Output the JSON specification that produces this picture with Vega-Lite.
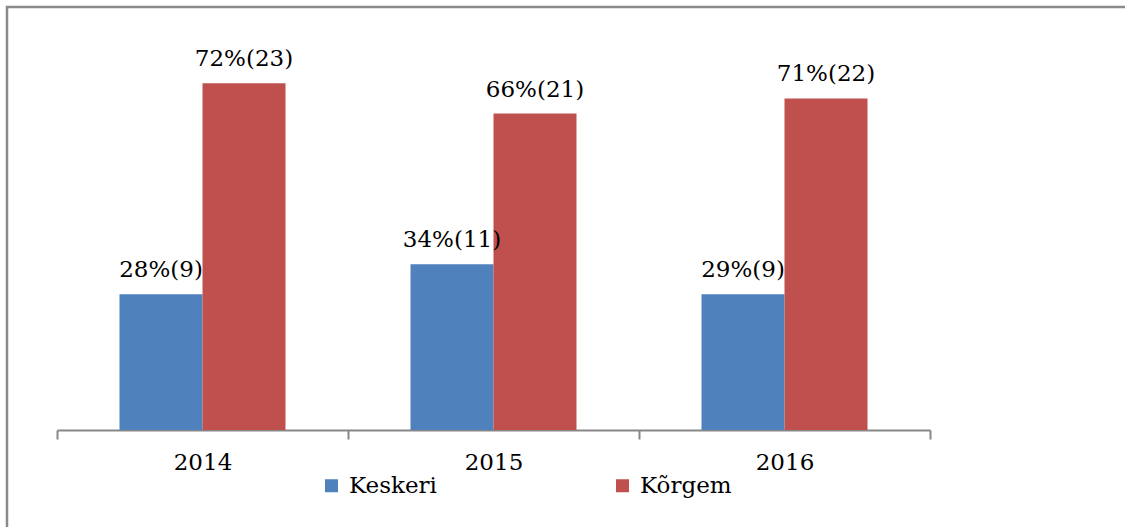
{
  "$schema": "https://vega.github.io/schema/vega-lite/v6.json",
  "width": 1125,
  "height": 525,
  "padding": {"left": 7, "top": 7, "right": 0, "bottom": 0},
  "background": "white",
  "config": {
    "view": {"stroke": "#8a8a8a", "strokeWidth": 2.5},
    "font": "DejaVu Serif"
  },
  "data": {
    "values": [
      {"year": "2014", "series": "Keskeri", "count": 9, "label": "28%(9)"},
      {"year": "2014", "series": "Kõrgem", "count": 23, "label": "72%(23)"},
      {"year": "2015", "series": "Keskeri", "count": 11, "label": "34%(11)"},
      {"year": "2015", "series": "Kõrgem", "count": 21, "label": "66%(21)"},
      {"year": "2016", "series": "Keskeri", "count": 9, "label": "29%(9)"},
      {"year": "2016", "series": "Kõrgem", "count": 22, "label": "71%(22)"}
    ]
  },
  "encoding": {
    "x": {
      "field": "year",
      "type": "nominal",
      "scale": {"range": [50, 923], "paddingInner": 0, "paddingOuter": 0},
      "axis": {
        "title": null,
        "labelAngle": 0,
        "tickBand": "extent",
        "tickSize": 9,
        "tickColor": "#878787",
        "tickWidth": 2,
        "domainColor": "#878787",
        "domainWidth": 2,
        "labelFont": "DejaVu Serif",
        "labelFontSize": 23,
        "labelColor": "black",
        "labelPadding": 12,
        "offset": -102,
        "grid": false
      }
    },
    "xOffset": {
      "field": "series",
      "type": "nominal",
      "sort": ["Keskeri", "Kõrgem"],
      "scale": {"paddingInner": 0, "paddingOuter": 0.753}
    },
    "y": {
      "field": "count",
      "type": "quantitative",
      "scale": {"domain": [0, 28], "range": [423, 1], "nice": false, "zero": true},
      "axis": null
    }
  },
  "layer": [
    {
      "mark": {"type": "bar"},
      "encoding": {
        "color": {
          "field": "series",
          "type": "nominal",
          "scale": {"domain": ["Keskeri", "Kõrgem"], "range": ["#4F81BD", "#C0504D"]},
          "legend": {
            "title": null,
            "orient": "none",
            "legendX": 313,
            "legendY": 467,
            "direction": "horizontal",
            "symbolType": "square",
            "symbolSize": 169,
            "symbolStrokeWidth": 0,
            "labelFontSize": 23,
            "labelFont": "DejaVu Serif",
            "labelColor": "black",
            "columnPadding": 174,
            "labelOffset": 6,
            "padding": 0
          }
        }
      }
    },
    {
      "mark": {"type": "text", "dy": -17, "baseline": "alphabetic", "fontSize": 23, "font": "DejaVu Serif", "color": "black"},
      "encoding": {"text": {"field": "label"}}
    }
  ]
}
